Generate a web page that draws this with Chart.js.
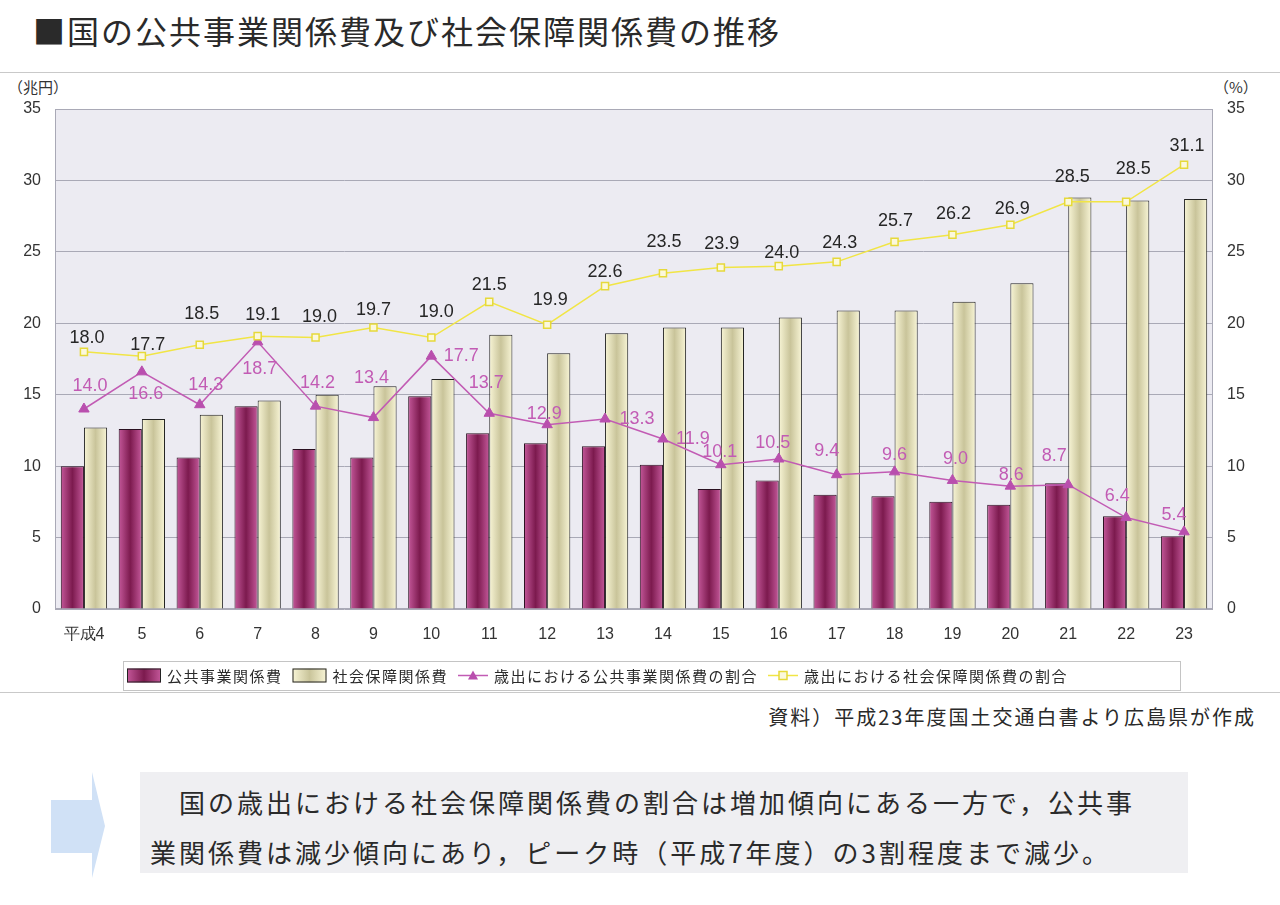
<!DOCTYPE html>
<html lang="ja">
<head>
<meta charset="utf-8">
<title>国の公共事業関係費及び社会保障関係費の推移</title>
<script src="https://cdn.jsdelivr.net/npm/chart.js@4.4.1/dist/chart.umd.min.js"></script>
<style>
    body { margin: 0; width: 1280px; height: 905px; background: #fff; overflow: hidden; position: relative;
           font-family: "Noto Sans CJK JP", "Noto Sans", sans-serif; color: #2a2a2a; }
    .abs { position: absolute; }
    #title { left: 33px; top: 7px; font-size: 32px; letter-spacing: 2px; font-weight: 400; }
    .rule { left: 0; width: 1280px; height: 1px; background: #c9c9c9; }
    .unit { top: 76px; font-size: 15px; font-family: "Liberation Sans Narrow", "Noto Sans CJK JP", sans-serif; color: #333; }
    #chartWrap { left: 0; top: 80px; width: 1280px; height: 620px; }
    #source { right: 24px; top: 702px; font-size: 20px; letter-spacing: 2px; }
    #note { left: 140px; top: 772px; width: 1048px; height: 101px; background: #efeff2;
            font-size: 26px; letter-spacing: 3px; line-height: 50px; box-sizing: border-box; padding: 5px 0 0 10px; }
</style>
</head>
<body>
<div id="title" class="abs">■国の公共事業関係費及び社会保障関係費の推移</div>
<div class="abs rule" style="top:72px"></div>
<div class="abs unit" style="left:8px">（兆円）</div>
<div class="abs unit" style="left:1214px">（%）</div>
<div id="chartWrap" class="abs"><canvas id="chart" width="1280" height="620"></canvas></div>
<div class="abs rule" style="top:692px"></div>
<div id="source" class="abs">資料）平成23年度国土交通白書より広島県が作成</div>
<svg class="abs" style="left:48px;top:772px" width="60" height="108">
    <polygon points="3,28 44,28 44,0 57,54 44,106 44,81 3,81" fill="#d0e1f6"/>
</svg>
<div id="note" class="abs">　国の歳出における社会保障関係費の割合は増加傾向にある一方で，公共事<br>業関係費は減少傾向にあり，ピーク時（平成7年度）の3割程度まで減少。</div>

<script>
// Fiscal years (Heisei)
const years = ['平成4', '5', '6', '7', '8', '9', '10', '11', '12', '13', '14', '15', '16', '17', '18', '19', '20', '21', '22', '23'];

// 兆円
const publicWorks = [10.0, 12.6, 10.6, 14.2, 11.2, 10.6, 14.9, 12.3, 11.6, 11.4, 10.1, 8.4, 9.0, 8.0, 7.9, 7.5, 7.3, 8.8, 6.5, 5.1];
const socialSecurity = [12.7, 13.3, 13.6, 14.6, 15.0, 15.6, 16.1, 19.2, 17.9, 19.3, 19.7, 19.7, 20.4, 20.9, 20.9, 21.5, 22.8, 28.8, 28.6, 28.7];

// % of expenditure
const publicWorksShare = [14.0, 16.6, 14.3, 18.7, 14.2, 13.4, 17.7, 13.7, 12.9, 13.3, 11.9, 10.1, 10.5, 9.4, 9.6, 9.0, 8.6, 8.7, 6.4, 5.4];
const socialSecurityShare = [18.0, 17.7, 18.5, 19.1, 19.0, 19.7, 19.0, 21.5, 19.9, 22.6, 23.5, 23.9, 24.0, 24.3, 25.7, 26.2, 26.9, 28.5, 28.5, 31.1];

const yTicks = [0, 5, 10, 15, 20, 25, 30, 35];

// label offsets (px) for the share labels, as placed in the original
const publicLabelOffset = [[6, -23], [4, 22], [6, -20], [2, 27], [2, -23], [-2, -40], [30, 0], [-3, -30], [-3, -11], [32, 0],
                           [30, 0], [-1, -13], [-6, -16], [-10, -24], [0, -17], [3, -21], [1, -11], [-14, -29], [-9, -22], [-10, -17]];
const socialLabelOffset = [[3, -14], [6, -11], [2, -31], [5, -21], [4, -21], [0, -18], [5, -26], [0, -17], [3, -25], [0, -14],
                           [1, -31], [1, -24], [3, -13], [3, -19], [1, -21], [1, -21], [2, -16], [4, -25], [7, -33], [3, -19]];

const numFont = '"Liberation Sans Narrow", "Liberation Sans", sans-serif';
const jpFont = '"Noto Sans CJK JP", sans-serif';

const publicColors = ['#c4589a', '#7c1a4e'];
const socialColors = ['#f8f5d6', '#c9c49a'];

function barGradient(context, colors, side) {
    const chart = context.chart;
    const xs = chart.scales.x;
    if (!xs || !chart.chartArea || context.dataIndex === undefined) return colors[1];
    const cw = xs.width / years.length;
    const bw = cw * 0.8 / 2;
    const c = xs.getPixelForValue(context.dataIndex);
    const x0 = side < 0 ? c - bw : c;
    const g = chart.ctx.createLinearGradient(x0, 0, x0 + bw, 0);
    g.addColorStop(0, colors[0]);
    g.addColorStop(0.5, colors[1]);
    g.addColorStop(1, colors[0]);
    return g;
}

// plot background
const plotBackground = {
    id: 'plotBackground',
    beforeDraw(chart) {
        const { ctx, chartArea: a } = chart;
        ctx.save();
        ctx.fillStyle = '#ecebf2';
        ctx.fillRect(a.left, a.top, a.right - a.left, a.bottom - a.top);
        ctx.strokeStyle = '#a9a9b6';
        ctx.lineWidth = 1;
        ctx.strokeRect(a.left + 0.5, a.top + 0.5, a.right - a.left - 1, a.bottom - a.top - 1);
        ctx.restore();
    }
};

// value labels on the two share lines
const shareLabels = {
    id: 'shareLabels',
    afterDatasetsDraw(chart) {
        const ctx = chart.ctx;
        ctx.save();
        ctx.font = '18px ' + numFont;
        ctx.textAlign = 'center';
        ctx.textBaseline = 'middle';
        [[2, '#c25bb4', publicLabelOffset], [3, '#262626', socialLabelOffset]].forEach(([idx, color, offs]) => {
            const meta = chart.getDatasetMeta(idx);
            const data = chart.data.datasets[idx].data;
            ctx.fillStyle = color;
            meta.data.forEach((pt, i) => {
                ctx.fillText(data[i].toFixed(1), pt.x + offs[i][0], pt.y + offs[i][1]);
            });
        });
        ctx.restore();
    }
};

// boxed legend below the plot
const boxLegend = {
    id: 'boxLegend',
    afterDraw(chart) {
        const ctx = chart.ctx;
        const top = 581, h = 29, left = 123, right = 1180;
        ctx.save();
        ctx.fillStyle = '#ffffff';
        ctx.fillRect(left, top, right - left, h);
        ctx.strokeStyle = '#c4c4c4';
        ctx.lineWidth = 1;
        ctx.strokeRect(left + 0.5, top + 0.5, right - left, h);
        ctx.font = '15px ' + jpFont;
        ctx.letterSpacing = '1.5px';
        ctx.textBaseline = 'middle';
        const cy = top + h / 2;
        let x = left + 4;
        chart.data.datasets.forEach((ds, i) => {
            if (i < 2) {
                const cols = i === 0 ? publicColors : socialColors;
                const g = ctx.createLinearGradient(x, 0, x + 34, 0);
                g.addColorStop(0, cols[0]); g.addColorStop(0.5, cols[1]); g.addColorStop(1, cols[0]);
                ctx.fillStyle = g;
                ctx.fillRect(x, cy - 7, 34, 14);
                ctx.strokeStyle = '#222';
                ctx.strokeRect(x + 0.5, cy - 6.5, 33, 13);
                x += 40;
            } else {
                ctx.strokeStyle = ds.borderColor;
                ctx.lineWidth = 1.5;
                ctx.beginPath(); ctx.moveTo(x, cy); ctx.lineTo(x + 30, cy); ctx.stroke();
                ctx.fillStyle = ds.pointBackgroundColor;
                ctx.strokeStyle = ds.pointBorderColor;
                ctx.beginPath();
                if (ds.pointStyle === 'triangle') {
                    ctx.moveTo(x + 15, cy - 5); ctx.lineTo(x + 20, cy + 4); ctx.lineTo(x + 10, cy + 4); ctx.closePath();
                    ctx.fill();
                } else {
                    ctx.rect(x + 11, cy - 4, 8, 8); ctx.fill(); ctx.stroke();
                }
                x += 36;
            }
            ctx.fillStyle = '#2a2a2a';
            ctx.fillText(ds.label, x, cy + 1);
            x += ctx.measureText(ds.label).width + 10;
        });
        ctx.restore();
    }
};

const ctx = document.getElementById('chart');
new Chart(ctx, {
    type: 'bar',
    data: {
        labels: years,
        datasets: [
            {
                label: '公共事業関係費',
                data: publicWorks,
                backgroundColor: c => barGradient(c, publicColors, -1),
                borderColor: '#2a1020',
                borderWidth: 1,
                yAxisID: 'y',
                order: 2
            },
            {
                label: '社会保障関係費',
                data: socialSecurity,
                backgroundColor: c => barGradient(c, socialColors, 1),
                borderColor: '#222',
                borderWidth: 1,
                yAxisID: 'y',
                order: 2
            },
            {
                type: 'line',
                label: '歳出における公共事業関係費の割合',
                data: publicWorksShare,
                borderColor: '#c25bb4',
                borderWidth: 1.5,
                pointStyle: 'triangle',
                pointRadius: 6,
                pointBackgroundColor: '#b94fae',
                pointBorderColor: '#b94fae',
                pointBorderWidth: 1,
                yAxisID: 'y1',
                order: 1
            },
            {
                type: 'line',
                label: '歳出における社会保障関係費の割合',
                data: socialSecurityShare,
                borderColor: '#f1e545',
                borderWidth: 1.5,
                pointStyle: 'rect',
                pointRadius: 5,
                pointBackgroundColor: '#fbf8dc',
                pointBorderColor: '#e6d93a',
                pointBorderWidth: 1.5,
                yAxisID: 'y1',
                order: 0
            }
        ]
    },
    options: {
        responsive: false,
        animation: false,
        layout: { padding: { top: 29, bottom: 51, left: 0, right: 0 } },
        plugins: {
            legend: { display: false },
            tooltip: { enabled: false }
        },
        datasets: {
            bar: { categoryPercentage: 0.8, barPercentage: 1.0 }
        },
        scales: {
            x: {
                grid: { display: false },
                border: { display: false },
                ticks: { color: '#333', font: { family: numFont, size: 16 }, padding: 8, maxRotation: 0 },
                afterFit(scale) { scale.height = 40; }
            },
            y: {
                position: 'left',
                min: 0, max: 35,
                afterBuildTicks(scale) { scale.ticks = yTicks.map(v => ({ value: v })); },
                grid: { color: '#a9a9b6', drawTicks: false },
                border: { display: false },
                ticks: { color: '#333', font: { family: numFont, size: 16 }, padding: 14 },
                afterFit(scale) { scale.width = 55; }
            },
            y1: {
                position: 'right',
                min: 0, max: 35,
                afterBuildTicks(scale) { scale.ticks = yTicks.map(v => ({ value: v })); },
                grid: { drawOnChartArea: false, drawTicks: false },
                border: { display: false },
                ticks: { color: '#333', font: { family: numFont, size: 16 }, padding: 14 },
                afterFit(scale) { scale.width = 67; }
            }
        }
    },
    plugins: [plotBackground, shareLabels, boxLegend]
});
</script>
</body>
</html>
